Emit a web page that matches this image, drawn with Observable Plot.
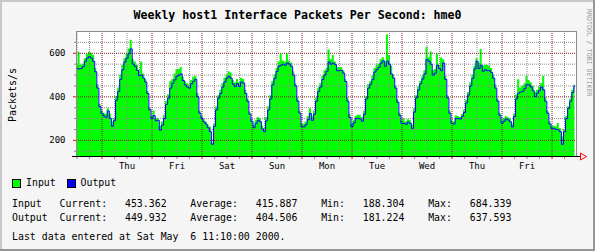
<!DOCTYPE html>
<html>
<head>
<meta charset="utf-8">
<script src="https://cdn.jsdelivr.net/npm/d3@7"></script>
<script src="https://cdn.jsdelivr.net/npm/@observablehq/plot@0.6"></script>
<style>
html,body{margin:0;padding:0;background:#f5f5f5;}
#wrap{position:relative;width:595px;height:251px;background:#f5f5f5;overflow:hidden;font-family:"DejaVu Sans Mono",monospace;color:#000;}
#chart{position:absolute;left:0;top:0;}
.t{position:absolute;white-space:pre;}
#title{left:0;width:595px;top:8.5px;text-align:center;font-size:11.6px;line-height:12px;font-weight:bold;}
#ylab{left:-27.5px;top:88.5px;width:80px;height:12px;line-height:12px;font-size:10px;text-align:center;transform:rotate(-90deg);}
#credit{left:548.5px;top:44.5px;width:80px;height:8px;line-height:8px;font-size:6.6px;text-align:center;color:#969696;transform:rotate(90deg);}
.leg{top:178.3px;font-size:9.9px;line-height:10px;}
.sw{position:absolute;top:179px;width:9px;height:9px;box-sizing:border-box;border:1px solid #000;}
.row{left:12px;font-size:9.9px;line-height:10px;}
.bd{position:absolute;}
</style>
</head>
<body>
<div id="wrap">
  <div id="chart"></div>
  <div id="title" class="t"></div>
  <div id="ylab" class="t"></div>
  <div id="credit" class="t"></div>
  <div id="legend"></div>
  <div id="stats"></div>
  <div class="bd" style="left:0;top:0;width:595px;height:2px;background:#c8c8c8"></div>
  <div class="bd" style="left:0;top:0;width:2px;height:251px;background:#c8c8c8"></div>
  <div class="bd" style="left:0;top:249px;width:595px;height:2px;background:#969696"></div>
  <div class="bd" style="left:593px;top:0;width:2px;height:251px;background:#969696"></div>
</div>
<script>
// ---- data (hourly samples from Wed Apr 26 2000 12:00) ----
const inputPps = [
 550,605,545,550,575,595,605,600,590,530,455,365,335,325,320,345,320,285,300,400,440,500,545,575,595,620,660,570,560,545,520,560,505,480,425,350,310,335,300,300,265,285,315,380,410,470,480,505,525,
 525,535,490,470,460,455,475,490,495,415,335,310,295,285,270,260,188,275,355,405,430,460,485,500,515,510,475,465,480,465,485,480,430,390,330,295,270,290,305,300,265,255,305,355,405,470,500,530,
 560,595,565,560,597,565,555,515,460,395,335,275,275,285,310,345,310,335,395,440,460,495,520,530,615,570,590,560,535,535,535,520,480,395,320,275,290,310,315,315,305,335,400,455,470,495,530,545,
 550,570,580,560,684,590,540,500,450,385,325,290,300,285,295,290,270,345,405,445,470,495,520,628,580,606,520,525,597,545,578,570,495,405,335,290,285,312,310,305,320,340,385,420,465,500,540,575,
 555,617,540,545,545,540,530,500,455,390,325,290,300,310,305,300,275,320,410,478,440,450,460,494,475,465,450,420,430,445,460,494,395,335,285,265,265,262,278,255,215,250,310,355,390,430,453
];
const outputPps = [
 530,528,530,538,563,578,584,578,563,515,440,355,324,312,306,335,301,265,290,385,424,480,525,560,578,598,620,550,540,522,497,500,486,468,415,340,301,314,290,292,247,270,300,365,394,440,462,478,494,
 500,505,475,455,445,440,460,471,480,400,325,301,285,275,258,240,182,265,340,394,415,445,468,486,494,485,458,447,460,448,468,463,415,380,320,286,258,278,292,286,252,240,290,340,390,455,485,517,
 540,545,550,545,555,550,540,500,450,380,325,263,262,272,295,324,292,320,380,424,445,480,500,517,560,550,555,548,520,520,522,509,470,380,305,263,280,300,301,298,288,320,390,440,458,480,514,525,
 535,555,566,540,563,550,505,486,440,375,315,278,278,274,284,278,255,330,395,432,460,482,505,571,563,550,500,509,545,530,520,555,480,395,325,278,275,300,300,298,310,328,372,409,450,485,528,563,
 530,545,517,525,520,520,512,486,440,380,315,278,288,298,294,286,262,310,390,417,422,425,438,455,455,445,428,401,417,428,445,432,380,325,275,255,255,250,248,240,182,240,300,347,380,420,450
];
const seriesStart = Date.UTC(2000, 3, 26, 12);
const sampleStepMs = 3600 * 1000;
const viewStart = new Date(Date.UTC(2000, 3, 26, 11, 45));
const viewEnd = new Date(Date.UTC(2000, 4, 6, 11, 45));
const yDomain = [126, 700];
const yMajorTicks = [200, 400, 600];
const yMinorTicks = [150, 250, 300, 350, 450, 500, 550, 650];
const yTickLabels = ["200", "400", "600"];
const dayLabels = ["Thu", "Fri", "Sat", "Sun", "Mon", "Tue", "Wed", "Thu", "Fri"];
const titleText = "Weekly host1 Interface Packets Per Second: hme0";
const yAxisLabel = "Packets/s";
const creditText = "RRDTOOL / TOBI OETIKER";
const legendNames = ["Input", "Output"];
const legendColors = ["#00ff00", "#0000ff"];
const statCurrent = ["453.362", "449.932"];
const statAverage = ["415.887", "404.506"];
const statMin = ["188.304", "181.224"];
const statMax = ["684.339", "637.593"];
const lastUpdate = "Last data entered at Sat May  6 11:10:00 2000.";

// ---- build ----
const data = outputPps.map((o, i) => ({t: new Date(seriesStart + i * sampleStepMs), input: inputPps[i], output: o}));
const dayStarts = d3.utcDay.range(viewStart, viewEnd);
const sixHours = d3.utcHour.every(6).range(viewStart, viewEnd).filter(d => d.getUTCHours() !== 0);
const noons = dayStarts.slice(0, dayLabels.length).map(d => new Date(+d + 12 * 3600 * 1000));
const labelFor = d => dayLabels[noons.findIndex(n => +n === +d)];

const GRID = "#8c8c8c", MGRID = "#821e1e", ARROW = "#ff0000";

const chart = Plot.plot({
  width: 595, height: 175,
  marginLeft: 76, marginRight: 19, marginTop: 31, marginBottom: 19,
  style: {background: "transparent", fontFamily: "DejaVu Sans Mono", fontSize: "9px", color: "#000", overflow: "visible"},
  x: {type: "utc", domain: [viewStart, viewEnd], axis: null, label: null},
  y: {domain: yDomain, axis: null, label: null},
  marks: [
    Plot.frame({fill: "#ffffff", stroke: null}),
    Plot.areaY(data, {x: "t", y: "input", fill: legendColors[0], curve: "step", clip: true}),
    Plot.ruleY(yMinorTicks, {stroke: GRID, strokeDasharray: "1,1"}),
    Plot.ruleX(sixHours, {stroke: GRID, strokeDasharray: "1,1"}),
    Plot.ruleY(yMajorTicks, {stroke: MGRID, strokeDasharray: "1,1"}),
    Plot.ruleX(dayStarts, {stroke: MGRID, strokeDasharray: "1,1"}),
    Plot.lineY(data, {x: "t", y: "output", stroke: legendColors[1], strokeWidth: 1, curve: "step", clip: true}),
    Plot.frame({stroke: GRID}),
    Plot.axisX(sixHours, {tickSize: 3, stroke: GRID, tickFormat: () => "", label: null}),
    Plot.axisX(dayStarts, {tickSize: 3, stroke: ARROW, tickFormat: () => "", label: null}),
    Plot.axisX(noons, {tickSize: 0, tickPadding: 6, tickFormat: labelFor, fontSize: 9, label: null}),
    Plot.axisY(yMinorTicks, {tickSize: 2, stroke: GRID, tickFormat: () => "", label: null}),
    Plot.axisY(yMajorTicks, {tickSize: 3, stroke: ARROW, tickPadding: 8, tickFormat: d => yTickLabels[yMajorTicks.indexOf(d)], fontSize: 9, label: null}),
    Plot.ruleY([yDomain[0]], {stroke: "#000", insetLeft: -4, insetRight: -4}),
    Plot.dot([{t: viewEnd, v: yDomain[0]}], {x: "t", y: "v", symbol: "triangle", rotate: 90, r: 2.6, stroke: ARROW, fill: "none", strokeWidth: 1, dx: 6})
  ]
});
document.getElementById("chart").appendChild(chart);

document.getElementById("title").textContent = titleText;
document.getElementById("ylab").textContent = yAxisLabel;
document.getElementById("credit").textContent = creditText;

const legend = document.getElementById("legend");
const swX = [12, 67], txX = [26, 80.5];
legendNames.forEach((n, i) => {
  const sw = document.createElement("div");
  sw.className = "sw"; sw.style.left = swX[i] + "px"; sw.style.background = legendColors[i];
  legend.appendChild(sw);
  const tx = document.createElement("div");
  tx.className = "t leg"; tx.style.left = txX[i] + "px"; tx.textContent = n;
  legend.appendChild(tx);
});

const stats = document.getElementById("stats");
const rowTops = [199.3, 212.6];
legendNames.forEach((n, i) => {
  const r = document.createElement("div");
  r.className = "t row"; r.style.top = rowTops[i] + "px";
  r.textContent = n.padEnd(8) + "Current:   " + statCurrent[i] + "    Average:   " + statAverage[i] +
    "    Min:   " + statMin[i] + "    Max:   " + statMax[i];
  stats.appendChild(r);
});
const last = document.createElement("div");
last.className = "t row"; last.style.top = "232.3px"; last.textContent = lastUpdate;
stats.appendChild(last);
</script>
</body>
</html>
